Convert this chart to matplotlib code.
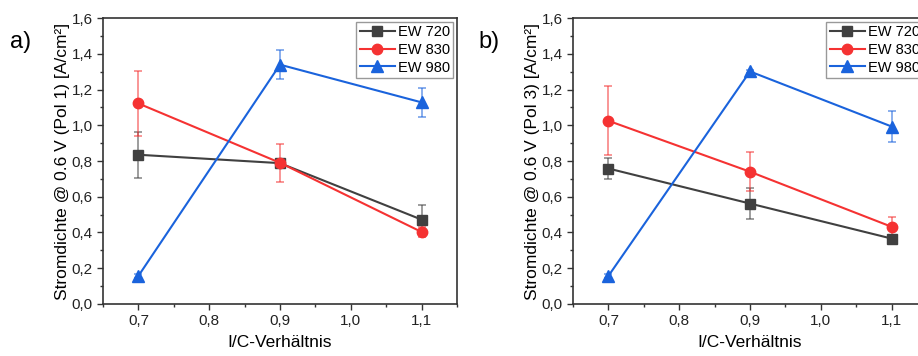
import matplotlib
matplotlib.use('Agg')
import matplotlib.pyplot as plt
from matplotlib.ticker import MultipleLocator, FuncFormatter

plt.rcParams['font.family'] = ['Liberation Sans', 'DejaVu Sans']

ic = [0.7, 0.9, 1.1]
labels = ['EW 720', 'EW 830', 'EW 980']
colors = ['#404040', '#f53232', '#1a63dc']
markers = ['s', 'o', '^']

# Pol 1
pol1_y = [[0.835, 0.788, 0.472],
          [1.122, 0.790, 0.403],
          [0.157, 1.339, 1.128]]
pol1_err = [[0.128, 0.02, 0.08],
            [0.180, 0.105, 0.03],
            [0.01, 0.080, 0.080]]

# Pol 3
pol3_y = [[0.758, 0.562, 0.366],
          [1.025, 0.740, 0.432],
          [0.157, 1.301, 0.993]]
pol3_err = [[0.058, 0.088, 0.02],
            [0.192, 0.110, 0.055],
            [0.01, 0.01, 0.085]]

fig = plt.figure(figsize=(9.18, 3.56), dpi=100)
ax1 = fig.add_axes([0.1122, 0.1461, 0.3856, 0.8033])
ax2 = fig.add_axes([0.6242, 0.1461, 0.3856, 0.8033])

comma = FuncFormatter(lambda v, p: ('%.1f' % v).replace('.', ','))

for ax, ys, errs, pol in [(ax1, pol1_y, pol1_err, 'Pol 1'),
                          (ax2, pol3_y, pol3_err, 'Pol 3')]:
    for y, e, c, m, lab in zip(ys, errs, colors, markers, labels):
        ax.errorbar(ic, y, yerr=e, fmt='none', ecolor=c, alpha=0.6,
                    elinewidth=1.2, capsize=3, capthick=1.2, zorder=2)
        ax.plot(ic, y, color=c, marker=m, markersize=8.5 if m == '^' else 7.5,
                linewidth=1.5, label=lab, zorder=3)
    ax.set_xlim(0.65, 1.15)
    ax.set_ylim(0, 1.6)
    ax.xaxis.set_major_locator(MultipleLocator(0.1))
    ax.xaxis.set_minor_locator(MultipleLocator(0.05))
    ax.yaxis.set_major_locator(MultipleLocator(0.2))
    ax.yaxis.set_minor_locator(MultipleLocator(0.1))
    ax.xaxis.set_major_formatter(comma)
    ax.yaxis.set_major_formatter(comma)
    ax.tick_params(which='major', direction='out', length=4, width=1, labelsize=11,
                   colors='#333333', labelcolor='#222222')
    ax.tick_params(which='minor', direction='out', length=2.5, width=1, colors='#333333')
    for s in ax.spines.values():
        s.set_linewidth(1.2)
        s.set_color('#333333')
    ax.set_xlabel('I/C-Verhältnis', fontsize=12.5, labelpad=5)
    ax.set_ylabel('Stromdichte @ 0.6 V (%s) [A/cm²]' % pol, fontsize=12.5, labelpad=1)
    leg = ax.legend(loc='upper right', fontsize=10.5, frameon=True, fancybox=False,
                    edgecolor='#999999', framealpha=1, borderaxespad=0.25,
                    handlelength=2.4, handletextpad=0.2, labelspacing=0.25,
                    borderpad=0.25)
    leg.get_frame().set_linewidth(1.0)

fig.text(0.011, 0.865, 'a)', fontsize=17)
fig.text(0.521, 0.865, 'b)', fontsize=17)

fig.savefig('out.png', dpi=100)
